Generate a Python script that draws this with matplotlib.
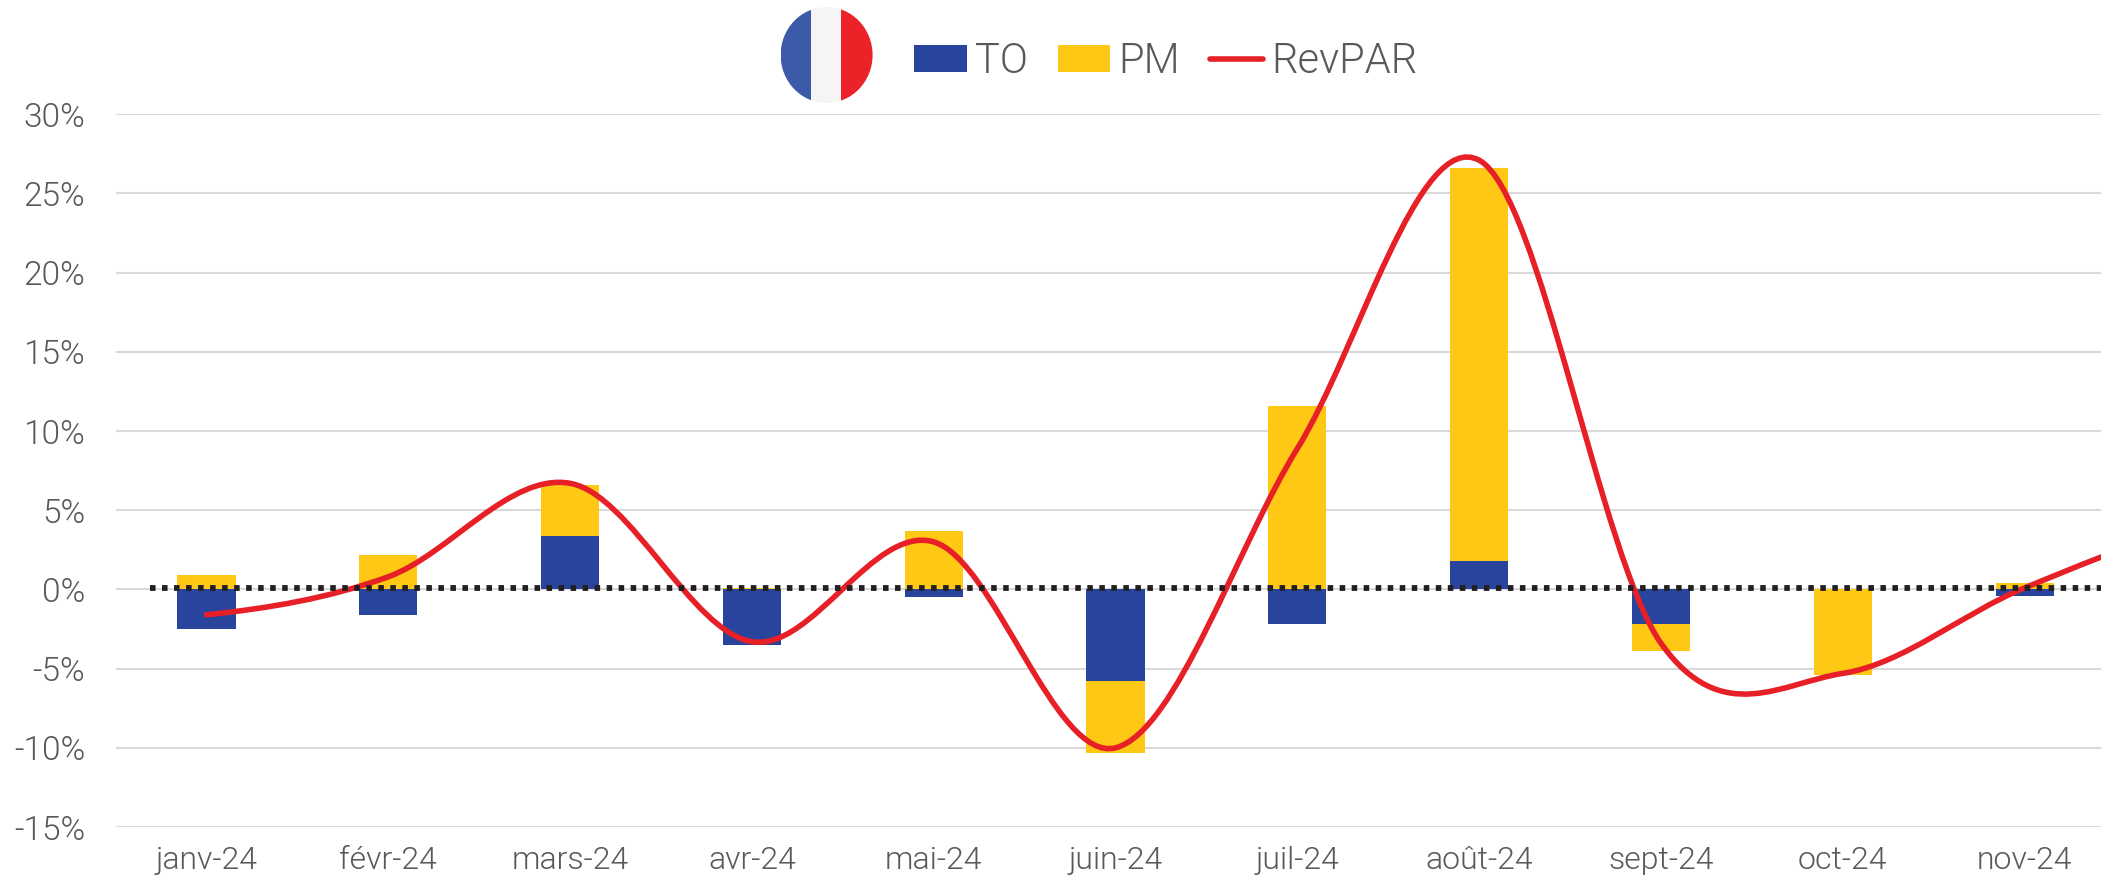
import numpy as np
import matplotlib.pyplot as plt
from matplotlib.path import Path
from matplotlib.patches import PathPatch, Rectangle, Ellipse
from matplotlib.lines import Line2D
from matplotlib.ticker import FuncFormatter

W, H = 2101, 889

months = ['janv-24', 'févr-24', 'mars-24', 'avr-24', 'mai-24', 'juin-24',
          'juil-24', 'août-24', 'sept-24', 'oct-24', 'nov-24']
to = [-2.5, -1.6, 3.4, -3.5, -0.5, -5.8, -2.2, 1.8, -2.2, 0.0, -0.4]
pm = [0.9, 2.2, 3.2, 0.1, 3.7, -4.5, 11.6, 24.8, -1.7, -5.4, 0.4]
# last point is december, outside of the cropped picture
revpar = [-1.6, 0.8, 6.7, -3.3, 3.0, -10.0, 8.9, 27.1, -3.4, -5.3, 0.1, 4.0]
zero_line = 0.1

plt.rcParams['font.family'] = ['Roboto', 'DejaVu Sans']
plt.rcParams['font.weight'] = 300

BLUE = '#28449C'
YELLOW = '#FEC814'
RED = '#E71F26'
TXT = '#595959'


def smooth_path(ys):
    # same idea as the excel "smoothed line": bezier with catmull-rom tangents
    ys = np.asarray(ys, dtype=float)
    n = len(ys)
    verts = [(0, ys[0])]
    codes = [Path.MOVETO]
    for i in range(n - 1):
        y0 = ys[max(i - 1, 0)]
        y3 = ys[min(i + 2, n - 1)]
        c1 = ys[i] + (ys[i + 1] - y0) / 6
        c2 = ys[i + 1] - (y3 - ys[i]) / 6
        verts += [(i + 1 / 3, c1), (i + 2 / 3, c2), (i + 1, ys[i + 1])]
        codes += [Path.CURVE4] * 3
    return Path(verts, codes)


fig = plt.figure(figsize=(W / 100, H / 100), dpi=100)
ax = fig.add_axes([115.6 / W, 1 - 827 / H, 1 - 115.6 / W, (827 - 114.3) / H])

x = np.arange(len(months))
width = 0.32
to_a = np.array(to)
pm_a = np.array(pm)
# pm is stacked on top of to only if both have the same sign
pm_bottom = np.where(np.sign(to_a) == np.sign(pm_a), to_a, 0)
b1 = ax.bar(x, to_a, width, color=BLUE, label='TO', zorder=2)
b2 = ax.bar(x, pm_a, width, bottom=pm_bottom, color=YELLOW, label='PM', zorder=2)

ax.add_patch(PathPatch(smooth_path(revpar), fill=False, edgecolor=RED, lw=4,
                       capstyle='round', zorder=3))
ax.plot([-0.31, 10.42], [zero_line, zero_line], color='#231F20', lw=4.2,
        dashes=(0.95, 1.11), dash_capstyle='butt', zorder=4)

ax.set_xlim(-0.5, 10.42)
ax.set_ylim(-15, 30)
ax.set_yticks(np.arange(-15, 31, 5))
ax.yaxis.set_major_formatter(FuncFormatter(lambda v, p: '%d%%' % v))
ax.set_xticks(x)
ax.set_xticklabels(months)
ax.tick_params(axis='both', length=0, labelcolor=TXT)
ax.tick_params(axis='y', labelsize=24, pad=22)
ax.tick_params(axis='x', labelsize=23, pad=14)
ax.grid(axis='y', color='#D9D9D9', lw=1.5, zorder=0)
ax.set_axisbelow(True)
for s in ax.spines.values():
    s.set_visible(False)

red_h = Line2D([], [], color=RED, lw=4, solid_capstyle='round')
fig.legend([b1, b2, red_h], ['TO', 'PM', 'RevPAR'], ncols=3, frameon=False,
           loc='center left', bbox_to_anchor=(914 / W, 1 - 61.5 / H), fontsize=30,
           handlelength=1.26, handleheight=0.6, handletextpad=0.2,
           columnspacing=0.72, labelcolor=TXT, borderpad=0, borderaxespad=0)

# flag
fa = fig.add_axes([780.6 / W, 1 - 103 / H, 92 / W, 96 / H])
fa.set_xlim(0, 92)
fa.set_ylim(0, 96)
fa.axis('off')
clip = Ellipse((46, 48), 92, 96, transform=fa.transData)
for x0, w, c in [(0, 30.5, '#3B5AA8'), (30.5, 30, '#F5F5F5'), (60.5, 31.5, '#EB2227')]:
    r = Rectangle((x0, 0), w, 96, color=c, lw=0)
    fa.add_patch(r)
    r.set_clip_path(clip)

fig.savefig('out.png', dpi=100)
